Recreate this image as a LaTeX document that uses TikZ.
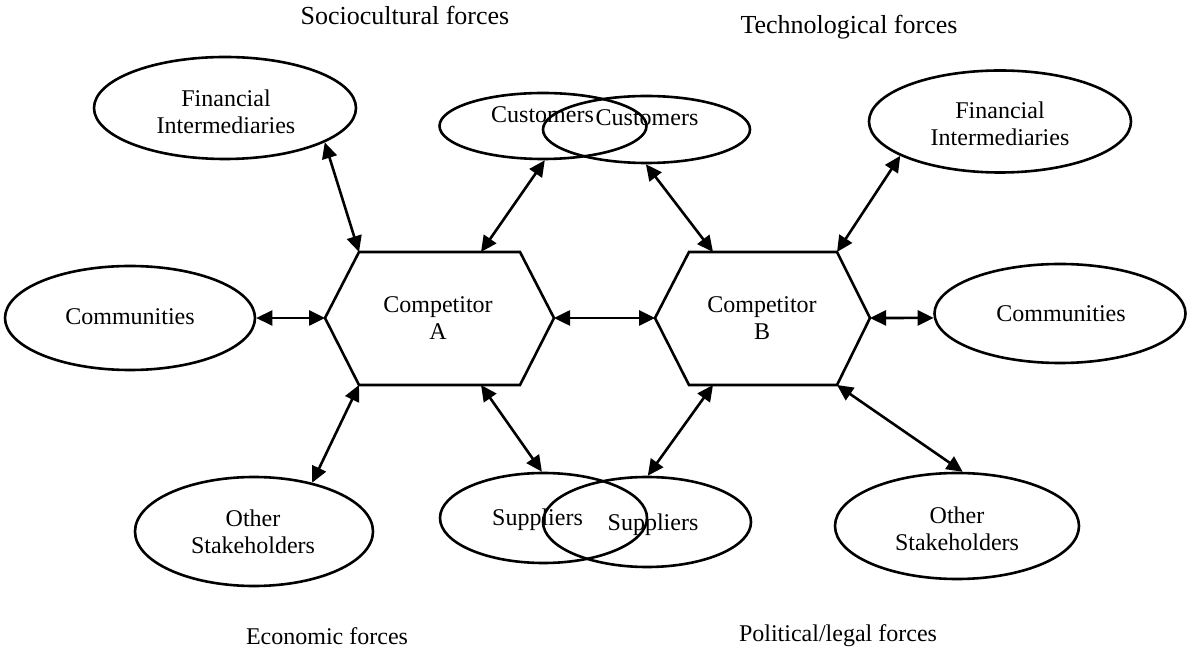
\documentclass[tikz,border=0pt]{standalone}
\usepackage{fontspec}
\setmainfont{Liberation Serif}
\usetikzlibrary{arrows.meta,shapes.geometric}
\begin{document}
\begin{tikzpicture}[x=0.5pt,y=-0.5pt,
  oval/.style={draw, ellipse, inner sep=0pt, line width=1.3pt},
  txt/.style={font=\fontsize{12}{13.5}\selectfont, inner sep=0pt, align=center},
  lbltop/.style={font=\fontsize{13}{15}\selectfont, inner sep=0pt, anchor=base},
  lblbot/.style={font=\fontsize{12}{14}\selectfont, inner sep=0pt, anchor=base},
  link/.style={{Triangle[length=8pt,width=7.5pt]}-{Triangle[length=8pt,width=7.5pt]}, line width=1.3pt},
  hexline/.style={draw, line width=1.3pt, line join=miter}
]
\path[fill=white] (0,0) rectangle (1187,651);
\useasboundingbox (0,0) rectangle (1187,651);

% ellipses
\node[oval, minimum width=131pt, minimum height=51pt] (finA) at (225,108) {};
\node[oval, minimum width=131pt, minimum height=51pt] (finB) at (1000,121.5) {};
\node[oval, minimum width=125pt, minimum height=52pt] (commA) at (130,318) {};
\node[oval, minimum width=125.5pt, minimum height=49.5pt] (commB) at (1060,313.5) {};
\node[oval, minimum width=103.5pt, minimum height=33pt] (custA) at (543,126) {};
\node[oval, minimum width=103.5pt, minimum height=33.5pt] (custB) at (646.5,129.5) {};
\node[oval, minimum width=103.5pt, minimum height=45pt] (supA) at (543.5,518) {};
\node[oval, minimum width=104pt, minimum height=45pt] (supB) at (647,522) {};
\node[oval, minimum width=119pt, minimum height=54.5pt] (othA) at (254,531.5) {};
\node[oval, minimum width=122pt, minimum height=53pt] (othB) at (957,526) {};

% hexagons
\coordinate (A-w) at (325,318);
\coordinate (A-nw) at (359,252);
\coordinate (A-ne) at (520,252);
\coordinate (A-e) at (554,318);
\coordinate (A-se) at (520,385);
\coordinate (A-sw) at (359,385);
\coordinate (A-t) at (481,252);
\coordinate (A-b) at (481,385);
\coordinate (B-w) at (655,318);
\coordinate (B-nw) at (689,252);
\coordinate (B-ne) at (837,252);
\coordinate (B-e) at (870,318);
\coordinate (B-se) at (837,385);
\coordinate (B-sw) at (689,385);
\coordinate (B-t) at (713,252);
\coordinate (B-b) at (713,385);
\draw[hexline] (A-w) -- (A-nw) -- (A-ne) -- (A-e) -- (A-se) -- (A-sw) -- cycle;
\draw[hexline] (B-w) -- (B-nw) -- (B-ne) -- (B-e) -- (B-se) -- (B-sw) -- cycle;

% texts
\node[txt] (finAt) at (226,111.8) {Financial\\Intermediaries};
\node[txt] (finBt) at (1000,123.8) {Financial\\Intermediaries};
\node[txt, anchor=base] (commAt) at (130,325) {Communities};
\node[txt, anchor=base] (commBt) at (1061,322) {Communities};
\node[txt, anchor=base] (custAt) at (542.5,123) {Customers};
\node[txt, anchor=base] (custBt) at (647,126) {Customers};
\node[txt, anchor=base] (supAt) at (537.5,525) {Suppliers};
\node[txt, anchor=base] (supBt) at (653,530) {Suppliers};
\node[txt] (othAt) at (253,531.8) {Other\\Stakeholders};
\node[txt] (othBt) at (957,528.3) {Other\\Stakeholders};
\node[txt] (compA) at (438,318.3) {Competitor\\A};
\node[txt] (compB) at (762,318.3) {Competitor\\B};

\node[lbltop] (soc) at (405,25) {Sociocultural forces};
\node[lbltop] (tech) at (849,34) {Technological forces};
\node[lblbot] (eco) at (327,644.5) {Economic forces};
\node[lblbot] (pol) at (838,641) {Political/legal forces};

% connectors
\draw[link] (finA.341.6) -- (A-nw);
\draw[link] (custA.273) -- (A-t);
\draw[link] (custB.269) -- (B-t);
\draw[link] (finB.199.3) -- (B-ne);
\draw[link] (commA.east) -- (A-w);
\draw[link] (A-e) -- (B-w);
\draw[link] (B-e) -- (commB.182);
\draw[link] (A-sw) -- (othA.40);
\draw[link] (A-b) -- (supA.92);
\draw[link] (B-b) -- (supB.89);
\draw[link] (B-se) -- (othB.84);
\end{tikzpicture}
\end{document}
